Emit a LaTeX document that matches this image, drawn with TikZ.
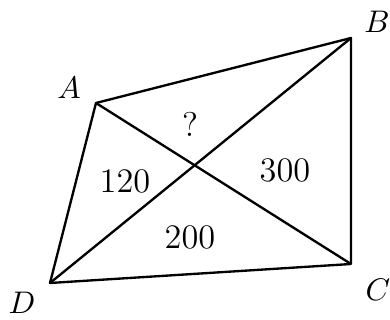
\documentclass[tikz,border=0pt]{standalone}
\usepackage{tikz}
\usetikzlibrary{positioning}

\begin{document}
\begin{tikzpicture}[
  x=0.32pt, y=-0.32pt,
  edge/.style={line width=0.75pt, line join=round},
  vertex/.style={inner sep=0pt, font=\normalsize},
  area/.style={inner sep=0pt, font=\fontsize{11}{13}\selectfont}
]
\useasboundingbox (0,0) rectangle (390,320);
\coordinate (A) at (96,103);
\coordinate (B) at (351,38);
\coordinate (C) at (351,264);
\coordinate (D) at (50,283);

\node[vertex] (lA) at (69,88) {$A$};
\node[vertex] (lB) at (377,22) {$B$};
\node[vertex] (lC) at (378,290) {$C$};
\node[vertex] (lD) at (22,303) {$D$};

\node[area] (q) at (190,124) {?};
\node[area] (s120) at (125,181) {120};
\node[area] (s300) at (285,170) {300};
\node[area] (s200) at (190,237) {200};

\draw[edge] (A) -- (B) -- (C) -- (D) -- cycle;
\draw[edge] (A) -- (C);
\draw[edge] (B) -- (D);
\end{tikzpicture}
\end{document}
